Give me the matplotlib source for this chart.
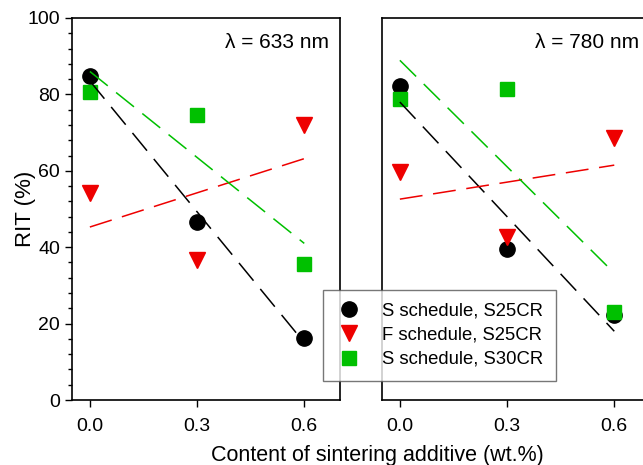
import numpy as np
import matplotlib
matplotlib.use("Agg")
from matplotlib import pyplot as plt
from matplotlib.ticker import MultipleLocator

plt.rcParams['font.family'] = ['Liberation Sans', 'DejaVu Sans']

# wt.% of sintering additive
additive = [0.0, 0.3, 0.6]

# RIT (%) at 633 nm
rit_633_s25 = [84.8, 46.7, 16.3]
rit_633_f25 = [54.1, 36.6, 72.0]
rit_633_s30 = [80.5, 74.5, 35.5]

# RIT (%) at 780 nm
rit_780_s25 = [82.3, 39.4, 22.3]
rit_780_f25 = [59.8, 42.6, 68.7]
rit_780_s30 = [78.8, 81.3, 23.1]

labels = ["S schedule, S25CR", "F schedule, S25CR", "S schedule, S30CR"]
panel_titles = ["λ = 633 nm", "λ = 780 nm"]

styles = [
    dict(color="black", marker="o", ms=11),
    dict(color="#ee0000", marker="v", ms=11),
    dict(color="#00c000", marker="s", ms=9.5),
]


def draw_panel(ax, series, title):
    '''Scatter the points and a dashed linear fit per series'''
    x = np.array(additive)
    for y, st, lab in zip(series, styles, labels):
        ax.plot(x, y, linestyle="none", marker=st["marker"], ms=st["ms"],
                color=st["color"], mec=st["color"], label=lab, zorder=3)
    for y, st in zip(series, styles):
        k, b = np.polyfit(x, y, 1)
        ax.plot(x[[0, -1]], k * x[[0, -1]] + b, color=st["color"], lw=1.1,
                dashes=(15, 7), zorder=4)
    ax.set_xlim(-0.05, 0.70)
    ax.set_ylim(0, 100)
    ax.set_xticks(additive)
    ax.set_xticklabels(["0.0", "0.3", "0.6"])
    ax.tick_params(axis="both", direction="out", labelsize=14, width=1,
                   length=5)
    ax.tick_params(axis="x", pad=8)
    ax.tick_params(which="minor", direction="out", length=3, width=1)
    for sp in ax.spines.values():
        sp.set_linewidth(1.2)
    ax.text(0.96, 0.935, title, transform=ax.transAxes, ha="right",
            va="center", fontsize=15)


def main():
    fig = plt.figure(figsize=(6.43, 4.65), dpi=100)
    W, H = 643.0, 465.0
    ax1 = fig.add_axes([72 / W, 65 / H, 268 / W, 382 / H])
    ax2 = fig.add_axes([382 / W, 65 / H, 268 / W, 382 / H])

    draw_panel(ax1, [rit_633_s25, rit_633_f25, rit_633_s30], panel_titles[0])
    draw_panel(ax2, [rit_780_s25, rit_780_f25, rit_780_s30], panel_titles[1])

    ax1.set_yticks([0, 20, 40, 60, 80, 100])
    ax1.yaxis.set_minor_locator(MultipleLocator(4))
    ax2.tick_params(axis="y", left=False, labelleft=False)
    ax2.tick_params(axis="y", which="minor", left=False)

    fig.text(25 / W, 1 - 209 / H, "RIT (%)", rotation=90,
             ha="center", va="center", fontsize=16)
    fig.text(377 / W, 1 - 455 / H, "Content of sintering additive (wt.%)",
             ha="center", va="center", fontsize=15.5)

    handles, labs = ax1.get_legend_handles_labels()
    leg = fig.legend(handles, labs, loc="upper left",
                     bbox_to_anchor=(323 / W, 1 - 290 / H), fontsize=13.3,
                     frameon=True, fancybox=False, handletextpad=1.1,
                     borderpad=0.7, labelspacing=0.38, handlelength=1.4,
                     borderaxespad=0)
    leg.get_frame().set_edgecolor("#555555")
    leg.get_frame().set_linewidth(1.0)

    fig.savefig("out.png", dpi=100)


if __name__ == "__main__":
    main()
